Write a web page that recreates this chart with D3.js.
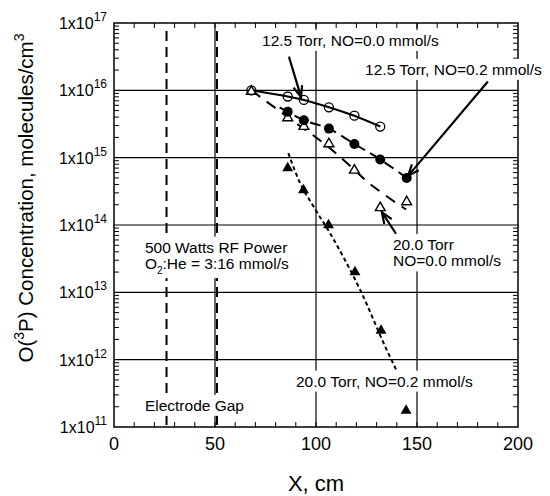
<!DOCTYPE html>
<html>
<head>
<meta charset="utf-8">
<script src="https://cdn.jsdelivr.net/npm/d3@7"></script>
<style>
  body { margin: 0; background: #fff; }
  text { font-family: "Liberation Sans", Arial, sans-serif; fill: #000; }
</style>
</head>
<body>
<svg id="chart" width="550" height="496"></svg>
<script>
// Measured points, x in cm, concentration in molecules/cm3
const openCircles = [[68, 1.0e16], [86, 8.1e15], [94, 7.2e15], [106.4, 5.6e15], [119, 4.2e15], [131.8, 2.9e15]]
const filledCircles = [[86, 4.8e15], [94, 3.6e15], [106.4, 2.7e15], [119, 1.6e15], [131.8, 9.4e14], [144.9, 5.0e14]]
const openTriangles = [[68, 9.6e15], [86, 3.9e15], [94, 2.9e15], [106.4, 1.6e15], [119, 6.5e14], [131.8, 1.8e14], [144.9, 2.2e14]]
const filledTriangles = [[86, 7.0e14], [93.8, 3.3e14], [106.2, 1.0e14], [119.3, 2.0e13], [132.2, 2.7e12], [144.6, 1.75e11]]

// Fit curves drawn through the data
const fitOpenCircles = openCircles
const fitFilledCircles = [[82, 5.6e15], ...filledCircles]
const fitOpenTriangles = [[68, 1.0e16], [86, 4.0e15], [106, 1.45e15], [119, 6.6e14], [125, 4.5e14], [132, 3.1e14], [144.6, 1.7e14]]
const fitFilledTriangles = [[86.3, 1.17e15], [92.1, 4.2e14], [98.7, 1.9e14], [106.9, 7.6e13], [114.4, 3.0e13], [121.8, 1.1e13], [135, 1.4e12], [140, 6.8e11]]

// Electrode gap markers
const electrodeX = [26, 51]

// Axis ticks
const xTicks = [0, 50, 100, 150, 200]
const yExponents = [11, 12, 13, 14, 15, 16, 17]

// Annotations: [x cm, log10 y of first baseline, lines]
const labels = [
    [73.3, 16.66, ["12.5 Torr, NO=0.0 mmol/s"]],
    [124.3, 16.23, ["12.5 Torr, NO=0.2 mmol/s"]],
    [138.1, 13.63, ["20.0 Torr", "NO=0.0 mmol/s"]],
    [15.3, 13.59, ["500 Watts RF Power", "O2:He = 3:16 mmol/s"]],
    [15.3, 11.24, ["Electrode Gap"]],
    [90.1, 11.60, ["20.0 Torr, NO=0.2 mmol/s"]],
]
// Arrows: [from x, from log y, to x, to log y]
const arrows = [
    [86.6, 16.50, 92.6, 15.90],
    [185.1, 16.13, 145.6, 14.73],
    [139.6, 13.87, 132.6, 14.19],
]

const svg = d3.select("#chart")
const margin = { left: 114, right: 32, top: 23, bottom: 69 }
const W = 550 - margin.left - margin.right
const H = 496 - margin.top - margin.bottom

const x = d3.scaleLinear().domain([0, 200]).range([0, W])
const y = d3.scaleLog().domain([1e11, 1e17]).range([H, 0])

const g = svg.append("g").attr("transform", `translate(${margin.left},${margin.top})`)

// Grid lines
g.append("g").selectAll("line")
    .data(xTicks.slice(1, -1))
    .join("line")
    .attr("x1", d => x(d)).attr("x2", d => x(d))
    .attr("y1", 0).attr("y2", H)
    .attr("stroke", "#000").attr("stroke-width", 1.2)

g.append("g").selectAll("line")
    .data(yExponents.slice(1, -1))
    .join("line")
    .attr("x1", 0).attr("x2", W)
    .attr("y1", d => y(Math.pow(10, d))).attr("y2", d => y(Math.pow(10, d)))
    .attr("stroke", "#000").attr("stroke-width", 1.2)

// Minor ticks, inward on all four sides
const xMinor = d3.range(10, 200, 10)
const yMinor = []
yExponents.slice(0, -1).forEach(e => d3.range(2, 10).forEach(k => yMinor.push(k * Math.pow(10, e))))
const tickLen = 5

g.append("g").selectAll("line").data(xMinor).join("line")
    .attr("x1", d => x(d)).attr("x2", d => x(d)).attr("y1", H).attr("y2", H - tickLen)
    .attr("stroke", "#000").attr("stroke-width", 1)
g.append("g").selectAll("line").data(xMinor).join("line")
    .attr("x1", d => x(d)).attr("x2", d => x(d)).attr("y1", 0).attr("y2", tickLen)
    .attr("stroke", "#000").attr("stroke-width", 1)
g.append("g").selectAll("line").data(yMinor).join("line")
    .attr("x1", 0).attr("x2", tickLen).attr("y1", d => y(d)).attr("y2", d => y(d))
    .attr("stroke", "#000").attr("stroke-width", 1)
g.append("g").selectAll("line").data(yMinor).join("line")
    .attr("x1", W).attr("x2", W - tickLen).attr("y1", d => y(d)).attr("y2", d => y(d))
    .attr("stroke", "#000").attr("stroke-width", 1)

// Electrode gap dashed lines
g.append("g").selectAll("line").data(electrodeX).join("line")
    .attr("x1", d => x(d)).attr("x2", d => x(d)).attr("y1", 8).attr("y2", H)
    .attr("stroke", "#000").attr("stroke-width", 2)
    .attr("stroke-dasharray", "10,6")

// Frame
g.append("rect").attr("width", W).attr("height", H)
    .attr("fill", "none").attr("stroke", "#000").attr("stroke-width", 1.5)

// Tick labels
g.append("g").selectAll("text").data(xTicks).join("text")
    .attr("x", d => x(d)).attr("y", H + 23)
    .attr("text-anchor", "middle").attr("font-size", 18)
    .text(d => d)

const yl = g.append("g").selectAll("text").data(yExponents).join("text")
    .attr("x", -7).attr("y", d => y(Math.pow(10, d)) + 6)
    .attr("text-anchor", "end").attr("font-size", 16)
yl.append("tspan").text("1x10")
yl.append("tspan").attr("font-size", 12).attr("dy", -8).text(d => d)

// Axis titles
svg.append("text")
    .attr("x", margin.left + x(100)).attr("y", 491)
    .attr("text-anchor", "middle").attr("font-size", 22)
    .text("X, cm")

const yt = svg.append("text")
    .attr("transform", "translate(33,198) rotate(-90)")
    .attr("text-anchor", "middle").attr("font-size", 20.5)
yt.append("tspan").text("O(")
yt.append("tspan").attr("font-size", 14).attr("dy", -9).text("3")
yt.append("tspan").attr("dy", 9).text("P) Concentration, molecules/cm")
yt.append("tspan").attr("font-size", 14).attr("dy", -9).text("3")

// Fit lines
const line = d3.line()
    .x(d => x(d[0]))
    .y(d => y(d[1]))
    .curve(d3.curveMonotoneX)

const fits = [
    { data: fitOpenCircles, dash: null },
    { data: fitFilledCircles, dash: "11,6" },
    { data: fitOpenTriangles, dash: "11,8" },
    { data: fitFilledTriangles, dash: "4,3" },
]
g.append("g").selectAll("path").data(fits).join("path")
    .attr("d", d => line(d.data))
    .attr("fill", "none").attr("stroke", "#000").attr("stroke-width", 2)
    .attr("stroke-dasharray", d => d.dash)

// Markers
const openTri = d3.symbol().type(d3.symbolTriangle).size(42)
const fullTri = d3.symbol().type(d3.symbolTriangle).size(52)

g.append("g").selectAll("path").data(filledTriangles).join("path")
    .attr("transform", d => `translate(${x(d[0])},${y(d[1])})`)
    .attr("d", fullTri).attr("fill", "#000")

g.append("g").selectAll("path").data(openTriangles).join("path")
    .attr("transform", d => `translate(${x(d[0])},${y(d[1])})`)
    .attr("d", openTri).attr("fill", "#fff").attr("stroke", "#000").attr("stroke-width", 1.4)

g.append("g").selectAll("circle").data(filledCircles).join("circle")
    .attr("cx", d => x(d[0])).attr("cy", d => y(d[1])).attr("r", 5)
    .attr("fill", "#000")

g.append("g").selectAll("circle").data(openCircles).join("circle")
    .attr("cx", d => x(d[0])).attr("cy", d => y(d[1])).attr("r", 4.5)
    .attr("fill", "none").attr("stroke", "#000").attr("stroke-width", 1.3)

// Annotation text on white boxes
const fontSize = 15.5, lineGap = 16.5
const labelG = g.append("g")
labels.forEach(l => {
    const lg = labelG.append("g")
    const box = lg.append("rect").attr("fill", "#fff")
    const t = lg.append("text")
        .attr("x", x(l[0])).attr("y", y(Math.pow(10, l[1])))
        .attr("font-size", fontSize)
    l[2].forEach((s, i) => {
        const dy = i === 0 ? 0 : lineGap
        if (s.startsWith("O2")) {
            t.append("tspan").attr("x", x(l[0])).attr("dy", dy).text("O")
            t.append("tspan").attr("font-size", 10).attr("dy", 5).text("2")
            t.append("tspan").attr("dy", -5).text(s.slice(2))
        } else {
            t.append("tspan").attr("x", x(l[0])).attr("dy", dy).text(s)
        }
    })
    const bb = t.node().getBBox()
    box.attr("x", bb.x - 3).attr("y", bb.y - 2)
        .attr("width", bb.width + 6).attr("height", bb.height + 4)
})

// Arrows
const arrowG = g.append("g")
arrows.forEach(a => {
    const x1 = x(a[0]), y1 = y(Math.pow(10, a[1]))
    const x2 = x(a[2]), y2 = y(Math.pow(10, a[3]))
    const ang = Math.atan2(y2 - y1, x2 - x1)
    const hl = 12, hw = 0.38
    arrowG.append("line")
        .attr("x1", x1).attr("y1", y1).attr("x2", x2).attr("y2", y2)
        .attr("stroke", "#000").attr("stroke-width", 2.2)
    arrowG.append("path")
        .attr("d", `M${x2 - hl * Math.cos(ang - hw)},${y2 - hl * Math.sin(ang - hw)}L${x2},${y2}L${x2 - hl * Math.cos(ang + hw)},${y2 - hl * Math.sin(ang + hw)}`)
        .attr("fill", "none").attr("stroke", "#000").attr("stroke-width", 2.2)
})
</script>
</body>
</html>
